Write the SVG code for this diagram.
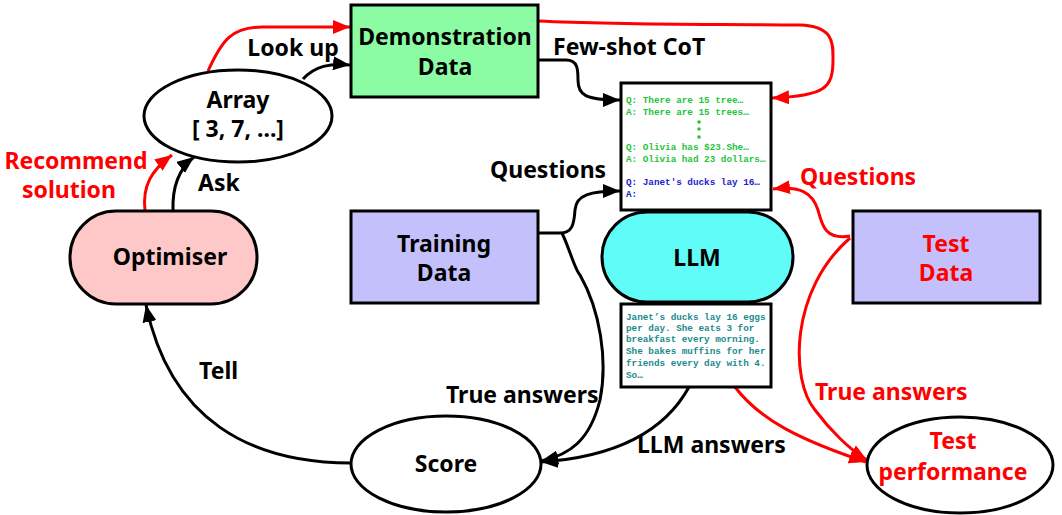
<svg xmlns="http://www.w3.org/2000/svg" width="1062" height="515" viewBox="0 0 1062 515">
<defs>
<marker id="ab" markerUnits="userSpaceOnUse" markerWidth="18" markerHeight="14" refX="17" refY="7" orient="auto"><path d="M0,0 L17,7 L0,14 z" fill="#000"/></marker>
<marker id="ar" markerUnits="userSpaceOnUse" markerWidth="18" markerHeight="14" refX="17" refY="7" orient="auto"><path d="M0,0 L17,7 L0,14 z" fill="#f00"/></marker>
<style>
.n{stroke:#000;stroke-width:3}
.t{font-family:"Noto Sans","Open Sans",sans-serif;font-weight:bold;font-size:23px;text-anchor:middle;fill:#000}
.l{font-family:"Noto Sans","Open Sans",sans-serif;font-weight:bold;font-size:23px;fill:#000}
.red{fill:#f00}
.cb{fill:none;stroke:#000;stroke-width:3}
.cr{fill:none;stroke:#f00;stroke-width:3}
.m{font-family:"Liberation Mono","DejaVu Sans Mono",monospace;font-weight:bold;font-size:9.3px}
.g{fill:#22c43c}.b{fill:#2020d0}.c{fill:#1a8c8c}
</style>
</defs>
<rect width="1062" height="515" fill="#fff"/>
<g id="connectors">
<path class="cr" d="M208,71 C222,40 232,27 262,27 L350,27" marker-end="url(#ar)"/>
<path class="cb" d="M303,79 C315,66 330,63 350,65" marker-end="url(#ab)"/>
<path class="cr" d="M145,211 C142,185 152,170 172,155" marker-end="url(#ar)"/>
<path class="cb" d="M173,211 C172,185 180,168 194,157" marker-end="url(#ab)"/>
<path class="cb" d="M351,463 C250,463 170,420 146,305" marker-end="url(#ab)"/>
<path class="cb" d="M538,60 L566,60 C578,60 578,70 578,80 C578,95 585,100 620,100" marker-end="url(#ab)"/>
<path class="cr" d="M538,21 C620,25 700,24 800,25 C835,26 833,45 833,60 C833,88 825,96 772,98" marker-end="url(#ar)"/>
<path class="cb" d="M538,233 L560,233 C572,233 574,225 575,210 C576,195 590,191 620,191" marker-end="url(#ab)"/>
<path class="cb" d="M562,233 C570,250 575,270 580,275 C600,310 608,360 600,400 C590,440 570,455 541,461" marker-end="url(#ab)"/>
<path class="cb" d="M689,387 C660,440 600,458 541,462" marker-end="url(#ab)"/>
<path class="cr" d="M850,236 C825,240 822,225 818,210 C812,192 800,186 773,189" marker-end="url(#ar)"/>
<path class="cr" d="M850,238 C790,290 790,380 815,410 C830,430 850,450 867,460" marker-end="url(#ar)"/>
<path class="cr" d="M735,387 C760,420 800,440 866,462" marker-end="url(#ar)"/>
</g>
<g id="labels">
<text class="t" x="293" y="56">Look up</text>
<text class="l" x="553" y="55">Few-shot CoT</text>
<text class="t red" x="76" y="169">Recommend</text>
<text class="t red" x="69" y="198">solution</text>
<text class="l" x="198" y="191">Ask</text>
<text class="l" x="199" y="379">Tell</text>
<text class="l" x="490" y="178">Questions</text>
<text class="l" x="446" y="403">True answers</text>
<text class="l" x="637" y="453">LLM answers</text>
<text class="l red" x="800" y="185">Questions</text>
<text class="l red" x="815" y="400">True answers</text>
</g>
<g id="array"><ellipse class="n" cx="238" cy="116" rx="94" ry="46" fill="#fff"/><text class="t" x="238" y="108">Array</text><text class="t" x="238" y="137">[ 3, 7, ...]</text></g>
<g id="optimiser"><rect class="n" x="70" y="211" width="187" height="93" rx="46" fill="#ffc8c8"/><text class="t" x="170" y="265">Optimiser</text></g>
<g id="demo"><rect class="n" x="351" y="5" width="187" height="92" fill="#8cfca4"/><text class="t" x="445" y="45">Demonstration</text><text class="t" x="445" y="75">Data</text></g>
<g id="training"><rect class="n" x="351" y="211" width="187" height="92" fill="#c4c0fc"/><text class="t" x="444" y="252">Training</text><text class="t" x="444" y="281">Data</text></g>
<g id="test"><rect class="n" x="853" y="211" width="187" height="92" fill="#c4c0fc"/><text class="t red" x="946" y="252">Test</text><text class="t red" x="946" y="281">Data</text></g>
<g id="llm"><rect class="n" x="602" y="212" width="191" height="90" rx="45" fill="#60fcf8"/><text class="t" x="697" y="266">LLM</text></g>
<g id="prompt"><rect class="n" x="621" y="83" width="150" height="127" fill="#fff"/>
<text class="m g" x="626" y="103">Q: There are 15 tree…</text>
<text class="m g" x="626" y="115">A: There are 15 trees…</text>
<circle cx="699" cy="122" r="1.8" fill="#22c43c"/><circle cx="699" cy="129" r="1.8" fill="#22c43c"/><circle cx="699" cy="137" r="1.8" fill="#22c43c"/>
<text class="m g" x="626" y="150">Q: Olivia has $23.She…</text>
<text class="m g" x="626" y="162">A: Olivia had 23 dollars…</text>
<text class="m b" x="626" y="185">Q: Janet's ducks lay 16…</text>
<text class="m b" x="626" y="197">A:</text></g>
<g id="answer"><rect class="n" x="621" y="304" width="150" height="83" fill="#fff"/>
<text class="m c" x="626" y="320">Janet’s ducks lay 16 eggs</text>
<text class="m c" x="626" y="331">per day. She eats 3 for</text>
<text class="m c" x="626" y="342">breakfast every morning.</text>
<text class="m c" x="626" y="354">She bakes muffins for her</text>
<text class="m c" x="626" y="366">friends every day with 4.</text>
<text class="m c" x="626" y="378">So…</text></g>
<g id="score"><ellipse class="n" cx="446" cy="464" rx="95" ry="48" fill="#fff"/><text class="t" x="446" y="472">Score</text></g>
<g id="testperf"><ellipse class="n" cx="960" cy="465" rx="93" ry="48" fill="#fff"/><text class="t red" x="953" y="449">Test</text><text class="t red" x="953" y="480">performance</text></g>
</svg>
